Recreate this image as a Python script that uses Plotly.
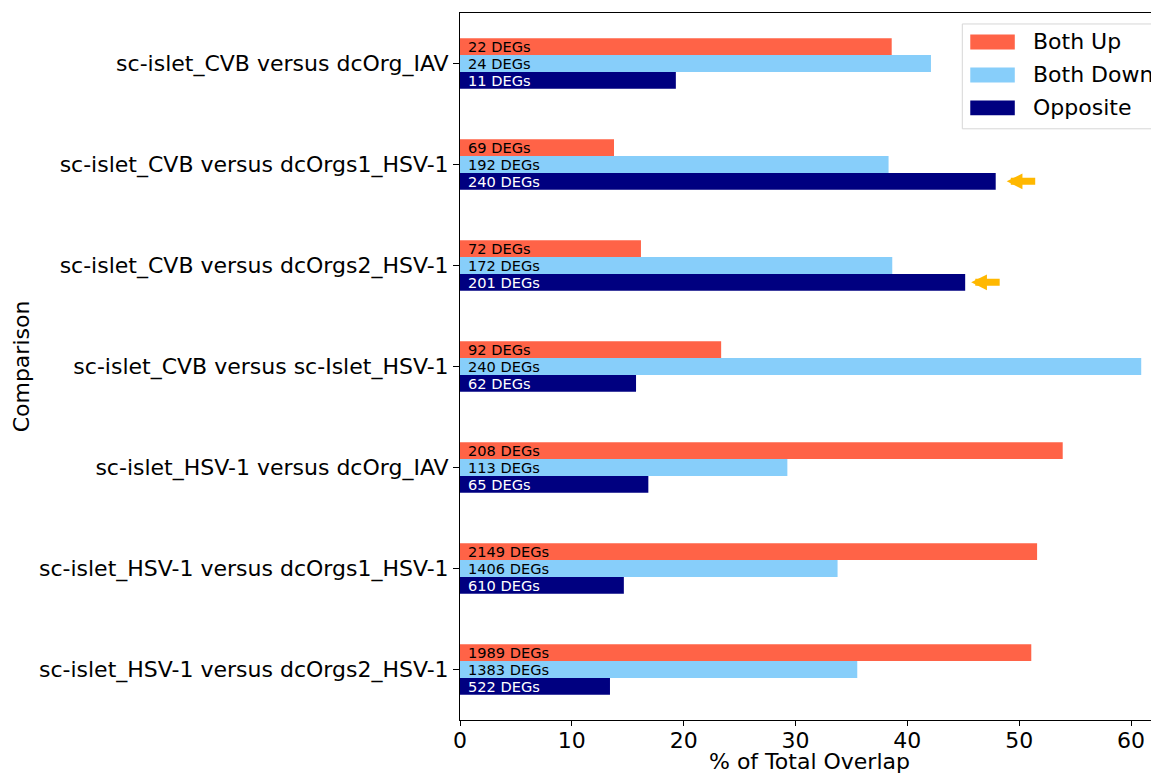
import plotly.graph_objects as go

# ---------------- data ----------------
comparisons = [
    "sc-islet_CVB versus dcOrg_IAV",
    "sc-islet_CVB versus dcOrgs1_HSV-1",
    "sc-islet_CVB versus dcOrgs2_HSV-1",
    "sc-islet_CVB versus sc-Islet_HSV-1",
    "sc-islet_HSV-1 versus dcOrg_IAV",
    "sc-islet_HSV-1 versus dcOrgs1_HSV-1",
    "sc-islet_HSV-1 versus dcOrgs2_HSV-1",
]
series_names = ["Both Up", "Both Down", "Opposite"]

both_up_counts = [22, 69, 72, 92, 208, 2149, 1989]
both_down_counts = [24, 192, 172, 240, 113, 1406, 1383]
opposite_counts = [11, 240, 201, 62, 65, 610, 522]

both_up_pct = [38.60, 13.77, 16.18, 23.35, 53.89, 51.60, 51.08]
both_down_pct = [42.11, 38.32, 38.65, 60.91, 29.27, 33.76, 35.52]
opposite_pct = [19.30, 47.90, 45.17, 15.74, 16.84, 14.65, 13.41]

x_ticks = [0, 10, 20, 30, 40, 50, 60]
highlighted = ["sc-islet_CVB versus dcOrgs1_HSV-1", "sc-islet_CVB versus dcOrgs2_HSV-1"]

# ---------------- style ----------------
colors = ["#FF6347", "#87CEFA", "#000080"]
label_colors = ["black", "black", "white"]
arrow_color = "#FFB800"
FONT = "DejaVu Sans"

fig = go.Figure()
pcts = [both_up_pct, both_down_pct, opposite_pct]
counts = [both_up_counts, both_down_counts, opposite_counts]

for name, pct, col in zip(series_names, pcts, colors):
    fig.add_trace(go.Bar(
        y=comparisons, x=pct, name=name, orientation="h",
        marker=dict(color=col, line=dict(width=0)),
        showlegend=False,
    ))

# bar value labels
bar_px = 16.85
for j, (cnt, tc) in enumerate(zip(counts, label_colors)):
    for comp, c in zip(comparisons, cnt):
        fig.add_annotation(
            x=0, y=comp, xref="x", yref="y", text=f"{c} DEGs",
            showarrow=False, xanchor="left", yanchor="middle",
            xshift=6, yshift=(1 - j) * bar_px,
            font=dict(family=FONT, size=14.6, color=tc),
        )

# highlight arrows
arrow_gaps = [11, 6]
for comp, gap in zip(highlighted, arrow_gaps):
    idx = comparisons.index(comp)
    fig.add_annotation(
        x=opposite_pct[idx], y=comp, xref="x", yref="y",
        xshift=gap, yshift=-bar_px, text="",
        showarrow=True, ax=30, ay=0, axref="pixel", ayref="pixel",
        arrowhead=2, arrowsize=0.45, arrowwidth=7, arrowcolor=arrow_color,
        standoff=0, startstandoff=0,
    )

# legend (matplotlib-style box with wide swatches)
leg_x0, leg_y0, leg_y1 = 0.7186, 0.8362, 0.9845
fig.add_shape(type="rect", xref="paper", yref="paper",
              x0=leg_x0, x1=1.06, y0=leg_y0, y1=leg_y1,
              line=dict(color="#d6d6d6", width=1), fillcolor="rgba(255,255,255,0.8)",
              layer="above")
row_y = [0.9590, 0.9124, 0.8658]
sw_h = 0.0106
for name, col, yy in zip(series_names, colors, row_y):
    fig.add_shape(type="rect", xref="paper", yref="paper",
                  x0=0.7300, x1=0.7937, y0=yy - sw_h, y1=yy + sw_h,
                  line=dict(width=0), fillcolor=col, layer="above")
    fig.add_annotation(x=0.8170, y=yy, xref="paper", yref="paper",
                       text=name, showarrow=False, xanchor="left", yanchor="middle",
                       font=dict(family=FONT, size=22, color="black"))

# page body has an 8px margin, so the figure is sized to fill the rest of the window
fig.update_layout(
    width=1151, height=766,
    margin=dict(l=452, r=0, t=5, b=54),
    paper_bgcolor="white", plot_bgcolor="white",
    barmode="group", bargap=0.5, bargroupgap=0,
    font=dict(family=FONT, color="black"),
    showlegend=False,
    xaxis=dict(
        range=[0, 62.5], tickvals=x_ticks, ticks="outside", ticklen=5,
        tickwidth=1, tickcolor="black", showline=True, linecolor="black",
        linewidth=1, mirror=True, showgrid=False, zeroline=False,
        tickfont=dict(family=FONT, size=22), ticklabelstandoff=-4,
        title=dict(text="% of Total Overlap", font=dict(family=FONT, size=22), standoff=9),
        automargin=False,
    ),
    yaxis=dict(
        categoryorder="array", categoryarray=comparisons,
        range=[6.5, -0.5], ticks="outside", ticklen=6, tickwidth=1,
        tickcolor="black", showline=True, linecolor="black", linewidth=1,
        showgrid=False, zeroline=False,
        tickfont=dict(family=FONT, size=22),
        title=dict(text="Comparison", font=dict(family=FONT, size=22), standoff=3),
        automargin=False,
    ),
)

fig.write_html("out.html")
